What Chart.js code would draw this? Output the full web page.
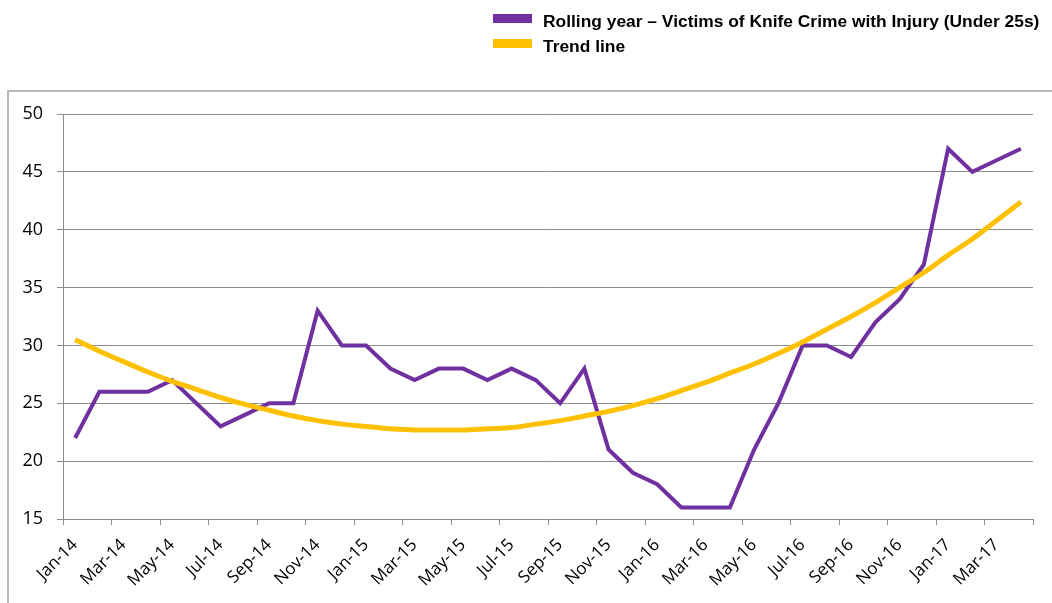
<html>
<head>
<style>
    body { margin: 0; background: #fff; }
    #wrap { position: relative; width: 1052px; height: 603px; overflow: hidden; }
    #frame { position: absolute; left: 7px; top: 90px; width: 1100px; height: 600px; border: 2px solid #b8b8b8; }
    #chart { position: absolute; left: 0; top: 0; }
    #legend { position: absolute; left: 493px; top: 9px; font: bold 17.4px "Liberation Sans", Arial, sans-serif; color: #000; }
    .item { display: flex; align-items: center; height: 25px; }
    .swatch { width: 39px; height: 9px; margin-right: 11px; position: relative; top: -3px; }
</style>
</head>
<body>
<div id="wrap">
    <div id="frame"></div>
    <canvas id="chart" width="1052" height="603"></canvas>
    <div id="legend"></div>
</div>
<script src="https://cdn.jsdelivr.net/npm/chart.js"></script>
<script>
    // monthly categories, Jan-14 .. Apr-17
    const months = ["Jan-14", "Feb-14", "Mar-14", "Apr-14", "May-14", "Jun-14", "Jul-14", "Aug-14", "Sep-14", "Oct-14", "Nov-14", "Dec-14",
        "Jan-15", "Feb-15", "Mar-15", "Apr-15", "May-15", "Jun-15", "Jul-15", "Aug-15", "Sep-15", "Oct-15", "Nov-15", "Dec-15",
        "Jan-16", "Feb-16", "Mar-16", "Apr-16", "May-16", "Jun-16", "Jul-16", "Aug-16", "Sep-16", "Oct-16", "Nov-16", "Dec-16",
        "Jan-17", "Feb-17", "Mar-17", "Apr-17"];
    const tickLabels = ["Jan-14", "Mar-14", "May-14", "Jul-14", "Sep-14", "Nov-14", "Jan-15", "Mar-15", "May-15", "Jul-15",
        "Sep-15", "Nov-15", "Jan-16", "Mar-16", "May-16", "Jul-16", "Sep-16", "Nov-16", "Jan-17", "Mar-17"];

    const victims = [22, 26, 26, 26, 27, 25, 23, 24, 25, 25, 33, 30,
        30, 28, 27, 28, 28, 27, 28, 27, 25, 28, 21, 19,
        18, 16, 16, 16, 21, 25, 30, 30, 29, 32, 34, 37,
        47, 45, 46, 47];
    const trend = [30.5, 29.5, 28.6, 27.7, 26.9, 26.2, 25.5, 24.9, 24.4, 23.9, 23.5, 23.2,
        23.0, 22.8, 22.7, 22.7, 22.7, 22.8, 22.9, 23.2, 23.5, 23.9, 24.3, 24.8,
        25.4, 26.1, 26.8, 27.6, 28.4, 29.3, 30.3, 31.4, 32.5, 33.7, 35.0, 36.3,
        37.8, 39.2, 40.8, 42.4];

    const seriesNames = ["Rolling year \u2013 Victims of Knife Crime with Injury (Under 25s)", "Trend line"];
    const seriesColors = ["#7030A0", "#FFC000"];

    // points sit in the middle of each month slot
    const toPoints = (arr) => arr.map((v, i) => ({ x: i + 0.5, y: v }));

    const ctx = document.getElementById("chart").getContext("2d");
    const chart = new Chart(ctx, {
        type: "line",
        data: {
            datasets: [{
                label: seriesNames[0],
                data: toPoints(victims),
                borderColor: seriesColors[0],
                backgroundColor: seriesColors[0],
                borderWidth: 4,
                pointRadius: 0,
                tension: 0,
                order: 1
            }, {
                label: seriesNames[1],
                data: toPoints(trend),
                borderColor: seriesColors[1],
                backgroundColor: seriesColors[1],
                borderWidth: 5,
                pointRadius: 0,
                cubicInterpolationMode: "monotone",
                order: 0
            }]
        },
        options: {
            responsive: false,
            animation: false,
            layout: { padding: { left: 0, top: 114, right: 19, bottom: 0 } },
            plugins: {
                legend: { display: false },
                tooltip: { enabled: false }
            },
            scales: {
                x: {
                    type: "linear",
                    min: 0,
                    max: months.length,
                    afterBuildTicks: (scale) => {
                        scale.ticks = [];
                        for (let v = 0; v <= months.length; v += 2) scale.ticks.push({ value: v });
                    },
                    afterFit: (scale) => {
                        scale.height = 84;
                        scale.paddingLeft = 0;
                        scale.paddingRight = 0;
                    },
                    grid: { display: true, drawOnChartArea: false, color: "#8c8c8c", tickLength: 6 },
                    border: { color: "#8c8c8c", width: 1 },
                    ticks: {
                        autoSkip: false,
                        maxRotation: 45,
                        minRotation: 45,
                        padding: 10,
                        labelOffset: 12,
                        color: "#000",
                        font: { family: "Open Sans", size: 17 },
                        callback: (value) => tickLabels[value / 2] || ""
                    }
                },
                y: {
                    min: 15,
                    max: 50,
                    afterFit: (scale) => { scale.width = 63; },
                    grid: { color: "#8c8c8c", tickLength: 6 },
                    border: { color: "#8c8c8c", width: 1 },
                    ticks: {
                        stepSize: 5,
                        padding: 14,
                        color: "#000",
                        font: { family: "Open Sans", size: 18 }
                    }
                }
            }
        }
    });

    // legend stacked at top right, as in the original
    const legend = document.getElementById("legend");
    seriesNames.forEach((name, i) => {
        const row = document.createElement("div");
        row.className = "item";
        row.innerHTML = '<span class="swatch" style="background:' + seriesColors[i] + '"></span><span>' + name + '</span>';
        legend.appendChild(row);
    });
</script>
</body>
</html>
